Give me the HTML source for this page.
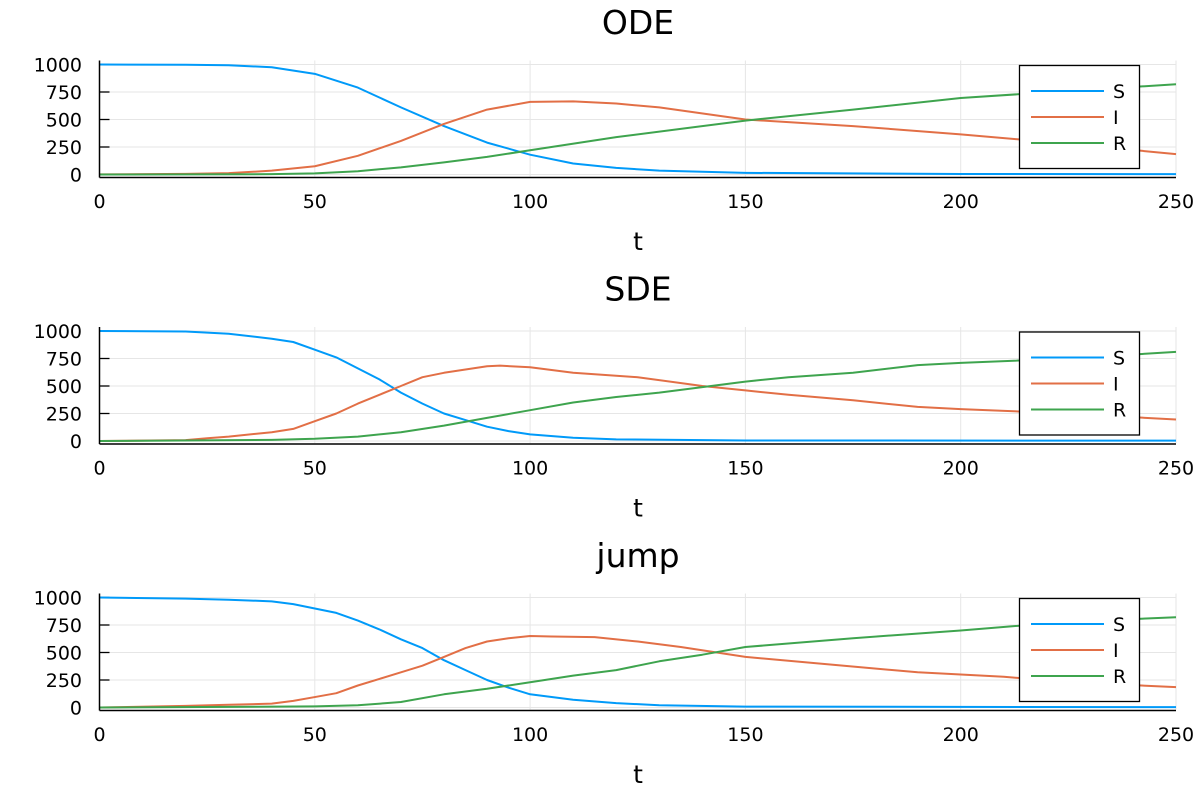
<!DOCTYPE html>
<html><head><meta charset="utf-8"><style>body{margin:0;background:#fff}svg{display:block;font-family:"DejaVu Sans","Liberation Sans",sans-serif}</style></head>
<body>
<svg id="c" width="1200" height="800"></svg>
<script>
const titles=["ODE","SDE","jump"];
const xTicks=[0,50,100,150,200,250];
const yTicks=[0,250,500,750,1000];
const seriesNames=["S","I","R"];
const colors=["#009af9","#e26f46","#3ea44e"];
const odeS=[[0,1000],[20,998],[30,993],[40,975],[50,915],[60,790],[70,610],[80,440],[90,290],[100,180],[110,100],[120,60],[130,35],[150,15],[200,5],[250,3]];
const odeI=[[0,1],[20,6],[30,12],[40,35],[50,75],[60,170],[70,305],[80,460],[90,590],[100,660],[110,665],[120,645],[130,610],[150,500],[175,440],[200,365],[225,280],[250,185]];
const odeR=[[0,0],[40,3],[50,10],[60,30],[70,65],[80,110],[90,160],[100,220],[120,340],[150,490],[175,590],[200,695],[225,760],[250,820]];
const sdeS=[[0,1000],[20,995],[30,975],[40,930],[45,900],[50,830],[55,760],[60,660],[65,560],[70,440],[75,340],[80,250],[85,190],[90,130],[95,90],[100,60],[110,30],[120,15],[150,5],[250,3]];
const sdeI=[[0,0],[20,8],[25,25],[30,40],[40,80],[45,110],[50,180],[55,250],[60,340],[65,420],[70,500],[75,580],[80,620],[85,650],[90,680],[93,685],[100,670],[110,620],[125,580],[140,500],[150,460],[160,420],[175,370],[190,310],[200,290],[225,250],[250,195]];
const sdeR=[[0,0],[40,10],[50,20],[60,40],[70,80],[80,140],[90,210],[100,280],[110,350],[120,400],[130,440],[140,490],[150,540],[160,580],[175,620],[190,690],[200,710],[225,750],[250,810]];
const jumpS=[[0,1000],[20,990],[30,980],[40,965],[45,940],[50,900],[55,860],[60,790],[65,710],[70,620],[75,540],[80,430],[85,340],[90,250],[95,180],[100,120],[110,70],[120,40],[130,20],[150,8],[250,3]];
const jumpI=[[0,0],[20,15],[30,25],[40,35],[45,60],[50,95],[55,130],[60,200],[65,260],[70,320],[75,380],[80,460],[85,540],[90,600],[95,630],[100,650],[105,645],[115,640],[125,600],[135,550],[150,460],[170,390],[190,320],[210,280],[225,230],[250,185]];
const jumpR=[[0,0],[50,10],[60,20],[70,50],[80,120],[90,170],[100,230],[110,290],[120,340],[130,420],[140,480],[150,550],[175,630],[200,700],[225,780],[250,820]];
const panels=[[odeS,odeI,odeR],[sdeS,sdeI,sdeR],[jumpS,jumpI,jumpR]];
const NS="http://www.w3.org/2000/svg";
const svg=document.getElementById("c");
function mk(t,a,p){const e=document.createElementNS(NS,t);for(const k in a)e.setAttribute(k,a[k]);(p||svg).appendChild(e);return e;}
const X0=99.5,X1=1176,panelOff=266.5;
panels.forEach((ser,pi)=>{
  const o=pi*panelOff;
  const y0=174.5+o,y1=64.5+o;
  const sx=v=>X0+(X1-X0)*v/250;
  const sy=v=>y0-(y0-y1)*v/1000;
  const g=mk("g",{});
  
  
  const t=mk("text",{x:638,y:34+o,"font-size":33,"text-anchor":"middle"},g);t.textContent=titles[pi];
  
  
  xTicks.forEach(v=>{
    const l=mk("line",{x1:sx(v),x2:sx(v),y1:y1-4,y2:y0+2,stroke:"#e6e6e6","stroke-width":1},g);
    
    
    const tx=mk("text",{x:sx(v),y:208+o,"font-size":19,"text-anchor":"middle"},g);tx.textContent=v;
    
    
  });
  yTicks.forEach(v=>{
    const l=mk("line",{x1:X0,x2:X1,y1:sy(v),y2:sy(v),stroke:"#e6e6e6","stroke-width":1},g);
    
    
    mk("line",{x1:X0,x2:X0+10,y1:sy(v),y2:sy(v),stroke:"#000","stroke-width":1.3},g);
    const ty=mk("text",{x:82,y:sy(v)+7,"font-size":19,"text-anchor":"end"},g);ty.textContent=v;
    
    
  });
  ser.forEach((d,si)=>{
    const p=mk("polyline",{points:d.map(q=>sx(q[0])+","+sy(q[1])).join(" "),fill:"none",stroke:colors[si],"stroke-width":2,"stroke-linejoin":"round"},g);
    
    
  });
  mk("line",{x1:X0,x2:X0,y1:y1-4,y2:y0+3,stroke:"#000","stroke-width":1.5},g);
  mk("line",{x1:X0,x2:X1,y1:y0+3,y2:y0+3,stroke:"#000","stroke-width":1.5},g);
  const xl=mk("text",{x:638,y:250+o,"font-size":25,"text-anchor":"middle"},g);xl.textContent="t";
  
  
  const lg=mk("g",{},g);
  
  
  mk("rect",{x:1019.5,y:65.5+o,width:120,height:103,fill:"#fff",stroke:"#000","stroke-width":1.3},lg);
  seriesNames.forEach((n,si)=>{
    const yy=91+o+si*26;
    mk("line",{x1:1031,x2:1104,y1:yy,y2:yy,stroke:colors[si],"stroke-width":2},lg);
    const lt=mk("text",{x:1113,y:yy+7,"font-size":19},lg);lt.textContent=n;
    
    
  });
});
</script>
</body></html>
